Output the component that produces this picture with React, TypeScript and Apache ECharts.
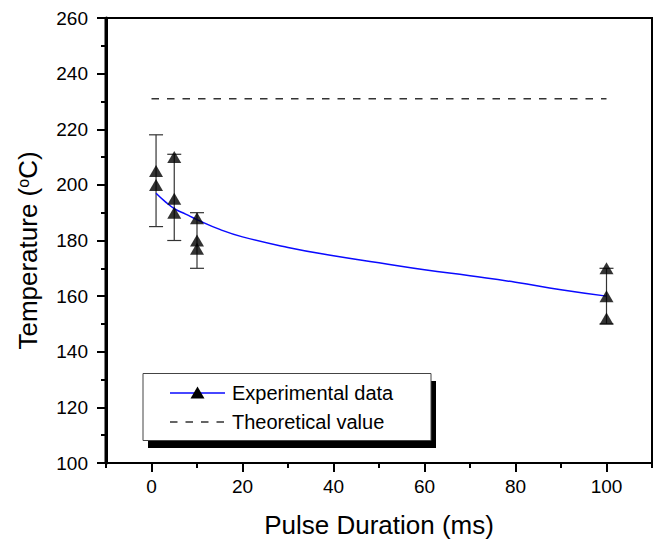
import React, { useEffect, useRef } from 'react';
import * as echarts from 'echarts';

const FONT = '"Liberation Sans", Arial, Helvetica, sans-serif';

// tick labels
const xMajorTicks = [0, 20, 40, 60, 80, 100];
const yMin = 100;
const yMax = 260;

// experimental data (pulse duration in ms, temperatures in °C)
const pulseDuration = [1, 5, 10, 100];
const tempGroups = [
  [205, 200],
  [210, 195, 190],
  [188, 180, 177],
  [170, 160, 152],
];
const errLow = [185, 180, 170, 150];
const errHigh = [218, 211, 190, 170];

// fitted curve
const fitX = [1, 3, 5, 7.5, 10, 15, 20, 30, 40, 50, 60, 70, 80, 90, 100];
const fitY = [197, 194, 191.5, 189.5, 187.5, 184, 181.3, 177.5, 174.5, 172, 169.5, 167.3, 165, 162.3, 160];

// theoretical value
const theoryX = [0, 100];
const theoryValue = 231;

const GRID = { left: 106, right: 9, top: 18, bottom: 80 };
const W = 661;
const H = 543;

export default function App() {
  const ref = useRef<HTMLDivElement>(null);
  useEffect(() => {
    if (!ref.current) return;
    const chart = echarts.init(ref.current, undefined, { renderer: 'svg' });
    const scatterData = pulseDuration.flatMap((x, i) => tempGroups[i].map((y) => [x, y]));
    const errData = pulseDuration.map((x, i) => [x, errLow[i], errHigh[i]]);
    const fitData = fitX.map((x, i) => [x, fitY[i]]);
    const theoryData = theoryX.map((x) => [x, theoryValue]);

    const option: any = {
      animation: false,
      backgroundColor: '#fff',
      textStyle: { fontFamily: FONT },
      grid: { ...GRID, show: true, borderColor: '#000', borderWidth: 2 },
      xAxis: [
        {
          type: 'value', min: -10, max: 110, position: 'bottom',
          axisLine: { show: true, onZero: false, lineStyle: { color: '#000', width: 2 } },
          axisTick: { show: true, customValues: xMajorTicks, length: 9, lineStyle: { color: '#000', width: 2 } },
          axisLabel: { customValues: xMajorTicks, fontSize: 19, margin: 14, color: '#000', fontFamily: FONT },
          splitLine: { show: false },
          name: 'Pulse Duration (ms)', nameLocation: 'middle', nameGap: 49,
          nameTextStyle: { fontSize: 26, color: '#000', fontFamily: FONT },
        },
        {
          type: 'value', min: -10, max: 110, interval: 10, position: 'bottom',
          axisLine: { show: false, onZero: false },
          axisTick: { show: true, length: 5, lineStyle: { color: '#000', width: 2 } },
          axisLabel: { show: false },
          splitLine: { show: false },
        },
      ],
      yAxis: [
        {
          type: 'value', min: yMin, max: yMax, interval: 20, position: 'left',
          axisLine: { show: true, onZero: false, lineStyle: { color: '#000', width: 3 } },
          axisTick: { show: true, length: 9, lineStyle: { color: '#000', width: 2 } },
          minorTick: { show: true, splitNumber: 2, length: 5, lineStyle: { color: '#000', width: 2 } },
          axisLabel: { fontSize: 19, margin: 18, color: '#000', fontFamily: FONT },
          splitLine: { show: false },
          name: 'Temperature ({s|o}C)', nameLocation: 'middle', nameGap: 65,
          nameTextStyle: { fontSize: 26, color: '#000', fontFamily: FONT, padding: [0, 20, 0, 0],
            rich: { s: { fontSize: 16, verticalAlign: 'top', color: '#000', fontFamily: FONT } } },
        },
      ],
      series: [
        {
          type: 'custom', name: 'errors', data: errData, encode: { x: 0, y: [1, 2] },
          renderItem: (params: any, api: any) => {
            const x = api.value(0);
            const lo = api.coord([x, api.value(1)]);
            const hi = api.coord([x, api.value(2)]);
            const hw = 7;
            const st = { stroke: '#333', lineWidth: 1.2 };
            return { type: 'group', children: [
              { type: 'line', shape: { x1: lo[0], y1: lo[1], x2: hi[0], y2: hi[1] }, style: st },
              { type: 'line', shape: { x1: lo[0] - hw, y1: lo[1], x2: lo[0] + hw, y2: lo[1] }, style: st },
              { type: 'line', shape: { x1: hi[0] - hw, y1: hi[1], x2: hi[0] + hw, y2: hi[1] }, style: st },
            ] };
          },
          z: 2,
        },
        { type: 'line', name: 'Theoretical value', data: theoryData, symbol: 'none', lineStyle: { color: '#333', width: 1.5, type: [7.5, 8] }, z: 2 },
        { type: 'line', name: 'fit', data: fitData, smooth: true, symbol: 'none', lineStyle: { color: '#0a0aff', width: 1.5 }, z: 3 },
        { type: 'scatter', name: 'Experimental data', data: scatterData, symbol: 'triangle', symbolSize: [14, 12], itemStyle: { color: '#000' }, z: 4 },
      ],
      graphic: [
        // left frame line of the plot area
        { type: 'rect', shape: { x: GRID.left - 1.5, y: GRID.top - 1, width: 3, height: H - GRID.bottom - GRID.top + 2 }, style: { fill: '#000' }, z: 100 },
        // legend
        { type: 'rect', shape: { x: 148, y: 381, width: 288, height: 67 }, style: { fill: '#000' }, z: 10 },
        { type: 'rect', shape: { x: 143, y: 373.5, width: 288, height: 67 }, style: { fill: '#fff', stroke: '#444', lineWidth: 1 }, z: 11 },
        { type: 'line', shape: { x1: 170, y1: 393, x2: 225, y2: 393 }, style: { stroke: '#0a0aff', lineWidth: 1.5 }, z: 12 },
        { type: 'polygon', shape: { points: [[197.5, 386.5], [190.5, 398.5], [204.5, 398.5]] }, style: { fill: '#000' }, z: 12 },
        { type: 'line', shape: { x1: 170, y1: 422, x2: 225, y2: 422 }, style: { stroke: '#333', lineWidth: 1.5, lineDash: [7.5, 8] }, z: 12 },
        { type: 'text', x: 232, y: 393, style: { text: 'Experimental data', fontSize: 20, fontFamily: FONT, fill: '#000', verticalAlign: 'middle' }, z: 12 },
        { type: 'text', x: 232, y: 422, style: { text: 'Theoretical value', fontSize: 20, fontFamily: FONT, fill: '#000', verticalAlign: 'middle' }, z: 12 },
      ],
    };
    chart.setOption(option);
    return () => chart.dispose();
  }, []);
  return <div ref={ref} style={{ position: 'fixed', left: 0, top: 0, width: W, height: H, background: '#fff' }} />;
}
